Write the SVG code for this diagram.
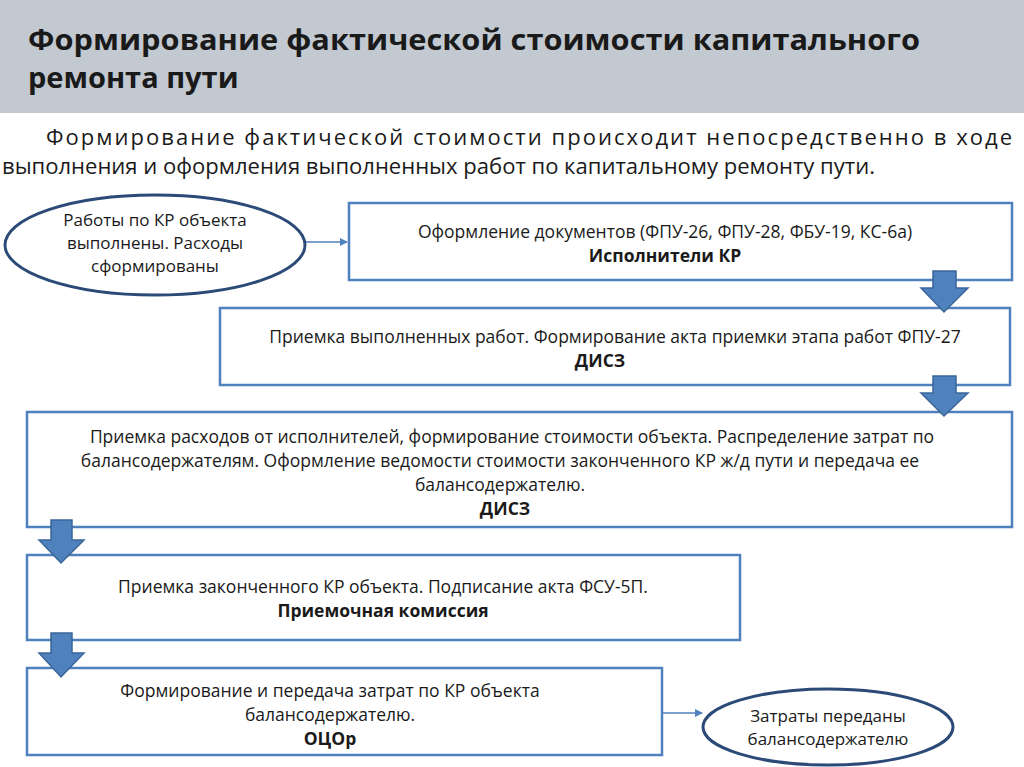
<svg xmlns="http://www.w3.org/2000/svg" width="1024" height="767" viewBox="0 0 1024 767">
<style>
text{font-family:"Open Sans","Liberation Sans",sans-serif;fill:#1a1a1a}
.b{fill:#fff;stroke:#4f81bd;stroke-width:2.5}
.e{fill:#fff;stroke:#2c4a77;stroke-width:3}
.t{font-size:17.5px;text-anchor:middle}
.et{font-size:17px;text-anchor:middle}
.bd{font-weight:bold}
.ba{fill:#4f81bd;stroke:#3a6699;stroke-width:1.5}
</style>
<defs><marker id="m" markerWidth="8" markerHeight="8" refX="7" refY="4" orient="auto" markerUnits="userSpaceOnUse"><path d="M0,0 L8,4 L0,8z" fill="#4f81bd"/></marker></defs>
<rect width="1024" height="767" fill="#fff"/>
<rect width="1024" height="113" fill="#c3c9d1"/>
<text x="28" y="50" font-size="29" font-weight="bold" fill="#262626" textLength="892" lengthAdjust="spacingAndGlyphs">Формирование фактической стоимости капитального</text>
<text x="28" y="88" font-size="29" font-weight="bold" fill="#262626">ремонта пути</text>
<text x="46" y="145" font-size="22" textLength="966" lengthAdjust="spacing">Формирование   фактической   стоимости   происходит   непосредственно   в   ходе</text>
<text x="2" y="174" font-size="22" textLength="873" lengthAdjust="spacingAndGlyphs">выполнения и оформления выполненных работ по капитальному ремонту пути.</text>
<g id="connectors">
<line x1="305" y1="242" x2="347" y2="242" stroke="#4f81bd" stroke-width="1.5" marker-end="url(#m)"/>
<line x1="662" y1="713" x2="702" y2="713" stroke="#4f81bd" stroke-width="1.5" marker-end="url(#m)"/>
</g>
<g id="n1"><ellipse class="e" cx="155" cy="245" rx="150" ry="50"/>
<text class="et" x="155" y="226">Работы по КР объекта</text><text class="et" x="155" y="249">выполнены. Расходы</text><text class="et" x="155" y="272">сформированы</text></g>
<g id="n2"><rect class="b" x="349" y="203" width="663" height="77"/>
<text class="t" x="665" y="238">Оформление документов (ФПУ-26, ФПУ-28, ФБУ-19, КС-6а)</text><text class="t bd" x="665" y="262">Исполнители КР</text></g>
<g id="n3"><rect class="b" x="220" y="308" width="790" height="77"/>
<text class="t" x="615" y="343">Приемка выполненных работ. Формирование акта приемки этапа работ ФПУ-27</text><text class="t bd" x="600" y="367">ДИСЗ</text></g>
<g id="n4"><rect class="b" x="27" y="412" width="985" height="115"/>
<text class="t" x="512" y="443">Приемка расходов от исполнителей, формирование стоимости объекта. Распределение затрат по</text>
<text class="t" x="500" y="467">балансодержателям. Оформление ведомости стоимости законченного КР ж/д пути и передача ее</text>
<text class="t" x="500" y="491">балансодержателю.</text><text class="t bd" x="505" y="515">ДИСЗ</text></g>
<g id="n5"><rect class="b" x="27" y="555" width="713" height="85"/>
<text class="t" x="383" y="593">Приемка законченного КР объекта. Подписание акта ФСУ-5П.</text><text class="t bd" x="383" y="617">Приемочная комиссия</text></g>
<g id="n6"><rect class="b" x="27" y="668" width="635" height="87"/>
<text class="t" x="330" y="697">Формирование и передача затрат по КР объекта</text><text class="t" x="330" y="721">балансодержателю.</text><text class="t bd" x="330" y="745">ОЦОр</text></g>
<g id="n7"><ellipse class="e" cx="828" cy="727" rx="125" ry="38"/>
<text class="et" x="828" y="722">Затраты переданы</text><text class="et" x="828" y="745">балансодержателю</text></g>
<g id="arrows">
<path class="ba" d="M933,271 H956 V288 H968 L944,312 L921,288 H933Z"/>
<path class="ba" d="M933,376 H956 V393 H968 L944,416 L921,393 H933Z"/>
<path class="ba" d="M51,520 H72 V540 H84 L61,563 L39,540 H51Z"/>
<path class="ba" d="M51,633 H72 V653 H84 L61,677 L39,653 H51Z"/>
</g>
</svg>
